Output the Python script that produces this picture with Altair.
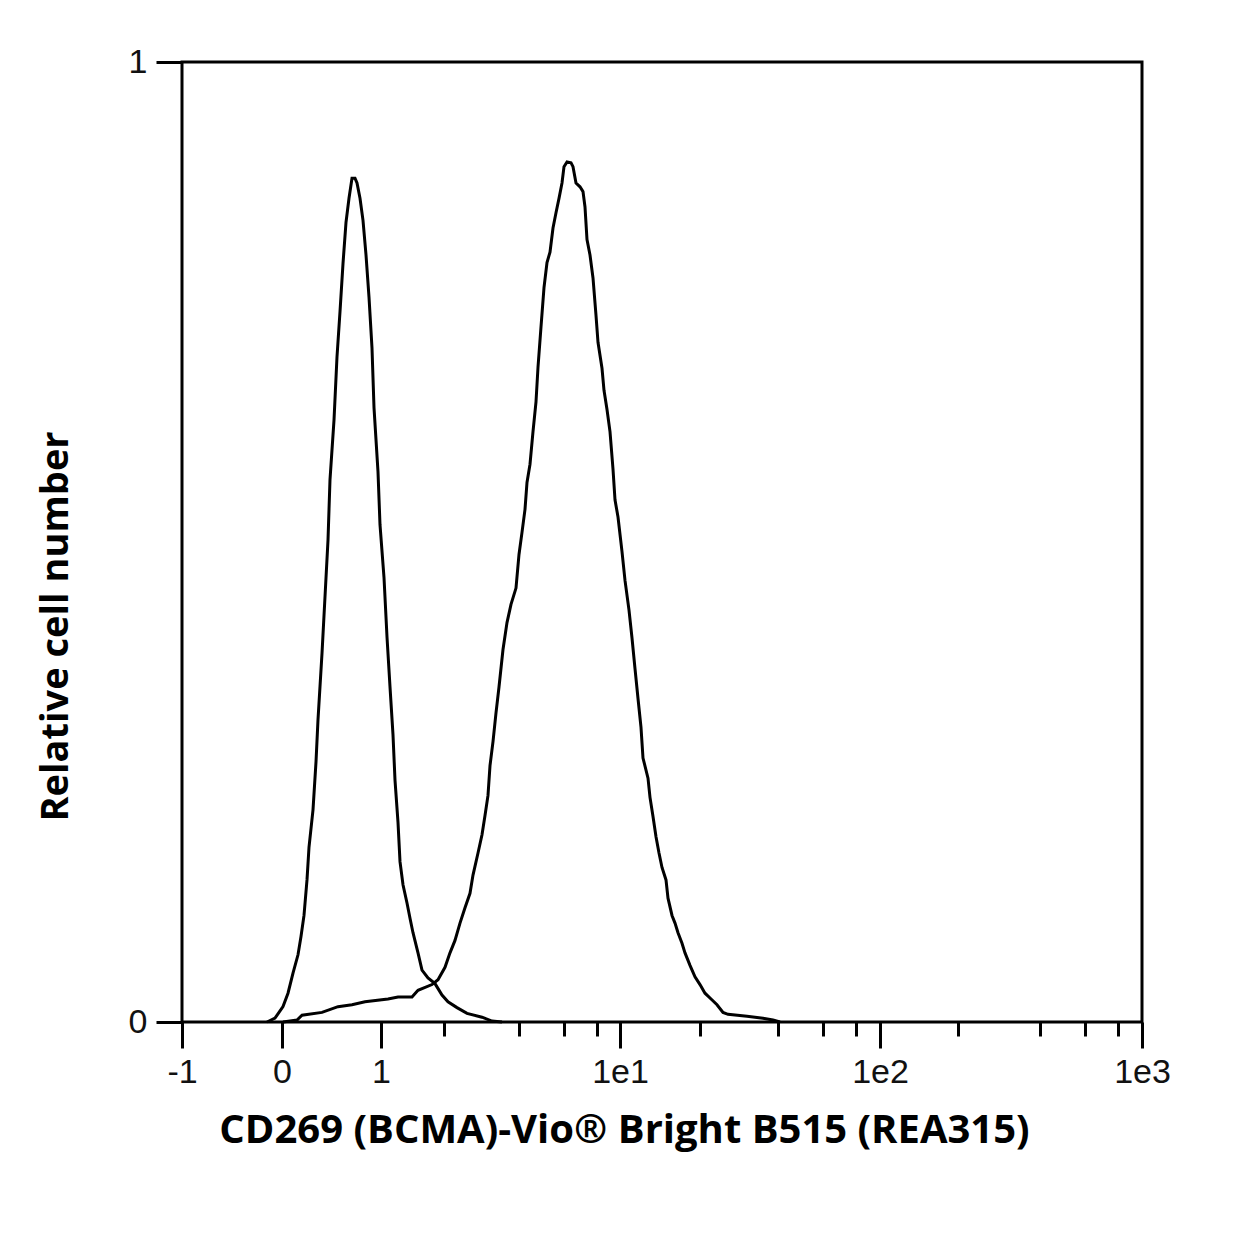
import altair as alt
import pandas as pd

# x positions are in display channels of the biexponential axis (0..960)
x_major = [0, 100, 199, 438, 698, 960]
x_major_labels = ["-1", "0", "1", "1e1", "1e2", "1e3"]
x_minor = [262, 337, 382, 415, 518, 596, 641, 674, 776, 858, 903, 936]

y_ticks = [0, 1]
y_labels = ["0", "1"]

# control (left peak)
ctrl_x = [85, 93, 101, 106, 111, 116, 119, 122, 125, 127, 131, 134, 136, 140, 143, 146,
          148, 152, 155, 158, 161, 164, 167, 170, 173, 175, 178, 181, 184, 187, 190, 192,
          196, 198, 202, 205, 208, 211, 213, 216, 218, 221, 225, 228, 231, 236, 240, 246,
          253, 260, 266, 275, 285, 300, 310, 320]
ctrl_y = [0.0, 0.004, 0.016, 0.030, 0.051, 0.070, 0.089, 0.111, 0.148, 0.182, 0.221, 0.271,
          0.315, 0.384, 0.443, 0.502, 0.565, 0.627, 0.693, 0.740, 0.790, 0.833, 0.858, 0.879,
          0.879, 0.874, 0.858, 0.835, 0.799, 0.755, 0.702, 0.640, 0.573, 0.518, 0.463, 0.401,
          0.349, 0.299, 0.252, 0.208, 0.167, 0.143, 0.124, 0.108, 0.093, 0.072, 0.054, 0.046,
          0.040, 0.028, 0.021, 0.015, 0.009, 0.005, 0.001, 0.0]

# stained (right peak)
stain_x = [101, 115, 120, 140, 156, 170, 183, 206, 216, 230, 236, 250, 256, 263, 268, 273,
           278, 283, 288, 291, 296, 300, 303, 306, 308, 311, 314, 317, 321, 325, 329, 334,
           337, 340, 343, 345, 348, 351, 354, 356, 359, 362, 365, 368, 371, 374, 377, 380,
           382, 385, 389, 391, 394, 398, 401, 403, 405, 408, 411, 414, 416, 420, 422, 425,
           428, 431, 433, 436, 440, 443, 447, 450, 453, 456, 459, 461, 466, 468, 471, 474,
           477, 480, 484, 486, 490, 493, 496, 500, 503, 508, 513, 518, 523, 528, 535, 541,
           546, 565, 581, 591, 598]
stain_y = [0.0, 0.002, 0.007, 0.010, 0.016, 0.018, 0.021, 0.024, 0.026, 0.026, 0.033, 0.039,
           0.044, 0.057, 0.072, 0.085, 0.103, 0.119, 0.134, 0.153, 0.176, 0.195, 0.215, 0.236,
           0.267, 0.292, 0.322, 0.349, 0.388, 0.416, 0.435, 0.452, 0.487, 0.510, 0.534, 0.562,
           0.581, 0.615, 0.646, 0.682, 0.724, 0.765, 0.791, 0.802, 0.827, 0.843, 0.858, 0.874,
           0.891, 0.896, 0.895, 0.891, 0.874, 0.870, 0.865, 0.849, 0.815, 0.799, 0.775, 0.736,
           0.708, 0.681, 0.658, 0.638, 0.615, 0.576, 0.544, 0.526, 0.490, 0.460, 0.429, 0.400,
           0.368, 0.337, 0.307, 0.275, 0.254, 0.234, 0.214, 0.193, 0.176, 0.161, 0.148, 0.129,
           0.111, 0.103, 0.093, 0.082, 0.072, 0.059, 0.047, 0.039, 0.030, 0.025, 0.018, 0.010,
           0.008, 0.006, 0.004, 0.002, 0.0]

df = pd.concat([
    pd.DataFrame({"x": ctrl_x, "y": ctrl_y, "series": "control", "order": range(len(ctrl_x))}),
    pd.DataFrame({"x": stain_x, "y": stain_y, "series": "stained", "order": range(len(stain_x))}),
])

all_ticks = sorted(x_major + x_minor)
label_expr = " : ".join(
    f"datum.value == {v} ? '{l}'" for v, l in zip(x_major, x_major_labels)
) + " : ''"
major_test = "indexof([" + ",".join(str(v) for v in x_major) + "], datum.value) >= 0"
y_label_expr = " : ".join(
    f"datum.value == {v} ? '{l}'" for v, l in zip(y_ticks, y_labels)
) + " : ''"

label_font = "Liberation Sans"
title_font = "Open Sans"
lw = 3

chart = alt.Chart(df).mark_line(color="black", strokeWidth=lw, interpolate="linear").encode(
    x=alt.X("x:Q",
            scale=alt.Scale(domain=[0, 960], nice=False, zero=False),
            axis=alt.Axis(
                values=all_ticks,
                labelExpr=label_expr,
                tickSize={"condition": {"test": major_test, "value": 26}, "value": 14},
                tickWidth=lw, tickColor="black",
                domain=False, grid=False,
                labelFont=label_font, labelFontSize=34, labelColor="#111111",
                labelPadding=7, labelFlush=False, labelOverlap=False,
                title="CD269 (BCMA)-Vio® Bright B515 (REA315)",
                titleFont=title_font, titleFontSize=40, titleFontWeight="bold",
                titleColor="black",
                titleX=442, titleY=108, titleAlign="center", titleBaseline="middle",
            )),
    y=alt.Y("y:Q",
            scale=alt.Scale(domain=[0, 1], nice=False),
            axis=alt.Axis(
                values=y_ticks,
                labelExpr=y_label_expr,
                tickSize=26, tickWidth=lw, tickColor="black",
                domain=False, grid=False,
                labelFont=label_font, labelFontSize=34, labelColor="#111111",
                labelPadding=9, labelFlush=False,
                title="Relative cell number",
                titleFont=title_font, titleFontSize=38, titleFontWeight="bold",
                titleColor="black", titleAngle=270,
                titleX=-126, titleY=564, titleAlign="center", titleBaseline="middle",
            )),
    detail="series:N",
    order="order:Q",
).properties(
    width=960, height=960,
    autosize=alt.AutoSizeParams(type="none"),
    padding={"left": 174, "top": 54, "right": 90, "bottom": 200},
    background="white",
).configure_view(stroke="black", strokeWidth=lw)

chart.save("out.html", embed_options={"renderer": "svg", "actions": False})
